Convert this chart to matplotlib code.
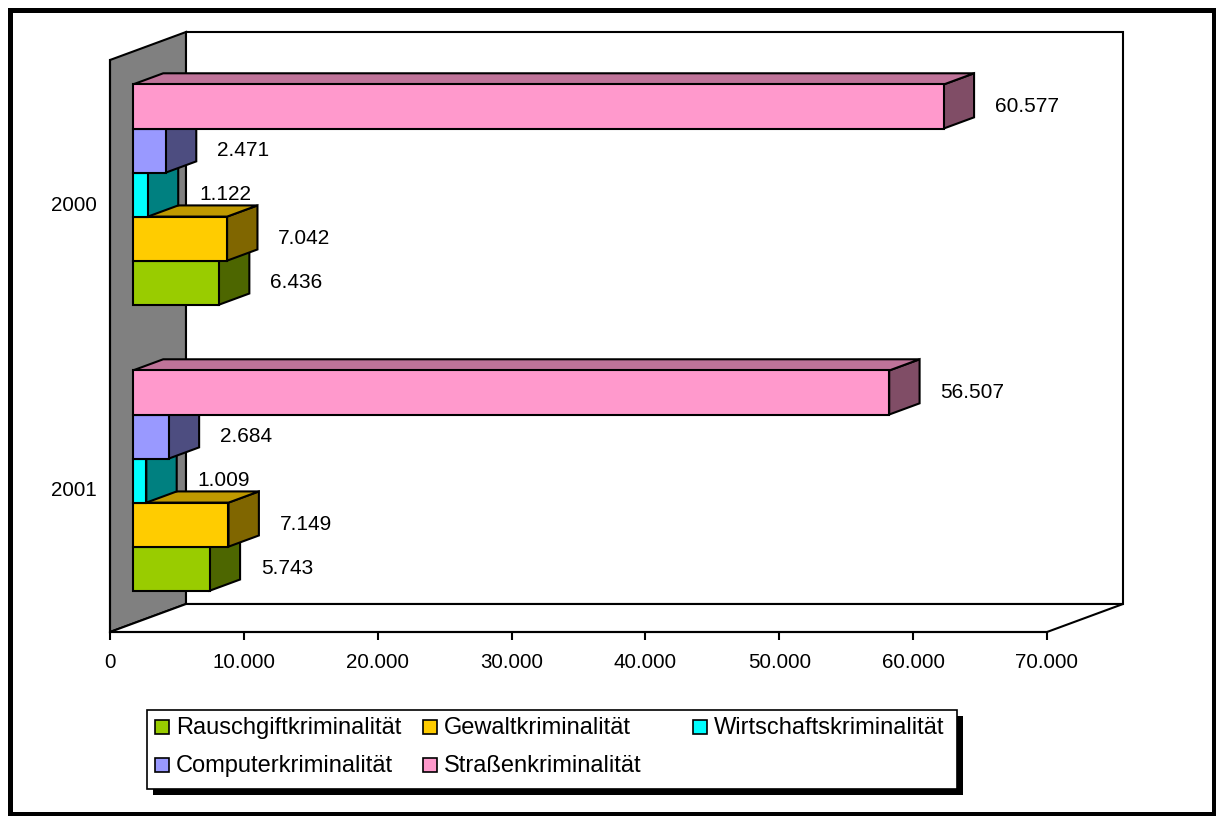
import matplotlib
matplotlib.use('Agg')
import matplotlib.pyplot as plt
from matplotlib.patches import Polygon, Rectangle
from matplotlib.ticker import FuncFormatter
from matplotlib.colors import to_rgb

plt.rcParams['font.family'] = ['Liberation Sans', 'DejaVu Sans']

# categories, bottom to top as drawn
years = ['2001', '2000']
series = ['Rauschgiftkriminalität', 'Gewaltkriminalität', 'Wirtschaftskriminalität',
          'Computerkriminalität', 'Straßenkriminalität']
colors = ['#99CC00', '#FFCC00', '#00FFFF', '#9999FF', '#FF99CC']

rausch = [5743, 6436]
gewalt = [7149, 7042]
wirtschaft = [1009, 1122]
computer = [2684, 2471]
strasse = [56507, 60577]
values = [rausch, gewalt, wirtschaft, computer, strasse]

xticks = [0, 10000, 20000, 30000, 40000, 50000, 60000, 70000]


def fmt(v, pos=None):
    return f"{int(v):,}".replace(",", ".")


def shade(c, f):
    return tuple(f * x for x in to_rgb(c))


W, H = 1216, 816
fig = plt.figure(figsize=(W / 100, H / 100), dpi=100)
ax = fig.add_axes([110 / W, 184 / H, 937 / W, 572 / H])
ax.patch.set_visible(False)
xmax = xticks[-1]
ax.set_xlim(0, xmax)
ax.set_ylim(0, len(years))

# depth of the 3d box (76 px right, 28 px up) in data units
dx = 76 * xmax / 937
dy = 28 * len(years) / 572


def face(pts, color):
    ax.add_patch(Polygon(pts, closed=True, facecolor=color, edgecolor='black',
                         lw=1.5, clip_on=False, joinstyle='miter'))


# walls and floor
face([(0, 0), (dx, dy), (dx, 2 + dy), (0, 2)], '#808080')
face([(dx, dy), (xmax + dx, dy), (xmax + dx, 2 + dy), (dx, 2 + dy)], 'white')
face([(0, 0), (xmax, 0), (xmax + dx, dy), (dx, dy)], 'white')

# 3d bars, front face at 30% of the depth, back at 70%
bh = 0.154
fx, fy = 0.3 * dx, 0.3 * dy
bx, by = 0.7 * dx, 0.7 * dy
for j, year in enumerate(years):
    base = j + 0.5 - bh * len(series) / 2
    for i, col in enumerate(colors):
        v = values[i][j]
        y0 = base + i * bh
        y1 = y0 + bh
        face([(v + fx, y0 + fy), (v + bx, y0 + by), (v + bx, y1 + by), (v + fx, y1 + fy)], shade(col, 0.5))
        face([(fx, y1 + fy), (bx, y1 + by), (v + bx, y1 + by), (v + fx, y1 + fy)], shade(col, 0.75))
        face([(fx, y0 + fy), (v + fx, y0 + fy), (v + fx, y1 + fy), (fx, y1 + fy)], col)
        ax.annotate(fmt(v), (v + bx, (y0 + y1) / 2 + fy), xytext=(15, 0),
                    textcoords='offset points', va='center', ha='left',
                    fontsize=15, annotation_clip=False)

ax.set_xticks(xticks)
ax.xaxis.set_major_formatter(FuncFormatter(fmt))
ax.tick_params(axis='x', direction='out', length=6, width=1.5, pad=9, labelsize=14.8)
ax.set_yticks([0.5, 1.5])
ax.set_yticklabels(years)
ax.tick_params(axis='y', length=0, pad=9.5, labelsize=14.8)
ax.spines['top'].set_visible(False)
ax.spines['right'].set_visible(False)
ax.spines['left'].set_linewidth(1.5)
ax.spines['bottom'].set_linewidth(1.5)


def fig_box(x0, y0, x1, y1, **kw):
    # pixel box measured from the top left corner
    r = Rectangle((x0 / W, 1 - y1 / H), (x1 - x0) / W, (y1 - y0) / H,
                  transform=fig.transFigure, **kw)
    fig.add_artist(r)


# chart border
fig_box(9.5, 9.5, 1213.5, 813.5, facecolor='none', edgecolor='black', lw=3.6)

# legend with shadow
fig_box(153, 716, 963, 795, facecolor='black', edgecolor='none')
fig_box(147, 710, 957, 789, facecolor='white', edgecolor='black', lw=1.2)
col_x = [155, 423, 693]
row_y = [727, 765]
for k, (name, col) in enumerate(zip(series, colors)):
    x = col_x[k % 3]
    y = row_y[k // 3]
    fig_box(x, y - 7, x + 14, y + 7, facecolor=col, edgecolor='black', lw=1.2)
    fig.text((x + 21) / W, 1 - (y + 1) / H, name, fontsize=17, va='center', ha='left')

fig.savefig('out.png', dpi=100)
